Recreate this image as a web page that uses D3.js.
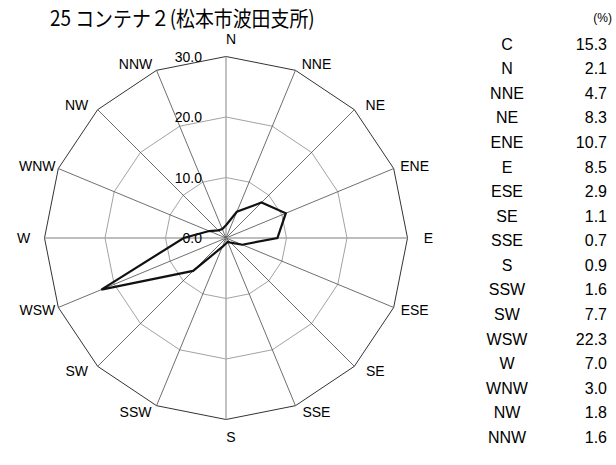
<!DOCTYPE html>
<html>
<head>
<meta charset="utf-8">
<script src="https://cdn.jsdelivr.net/npm/d3@7"></script>
<style>
  html, body { margin: 0; padding: 0; background: #fff; }
  svg { display: block; }
  text { font-family: "Liberation Sans", Arial, sans-serif; fill: #000; }
</style>
</head>
<body>
<svg id="chart" width="616" height="465"></svg>
<script>
// Wind direction frequency (%) for each of the 16 compass points
const directions = ["N", "NNE", "NE", "ENE", "E", "ESE", "SE", "SSE",
                    "S", "SSW", "SW", "WSW", "W", "WNW", "NW", "NNW"];
const frequencies = [2.1, 4.7, 8.3, 10.7, 8.5, 2.9, 1.1, 0.7,
                     0.9, 1.6, 7.7, 22.3, 7.0, 3.0, 1.8, 1.6];
const calmLabel = "C";
const calmValue = 15.3;
const ringValues = [0, 10, 20, 30];
const ringLabels = ["0.0", "10.0", "20.0", "30.0"];
const titleText = "25 コンテナ２(松本市波田支所)";
const unitText = "(%)";

const svg = d3.select("#chart");
const cx = 226, cy = 238, outerR = 181.5;

const r = d3.scaleLinear().domain([0, 30]).range([0, outerR]);
const angle = d3.scaleLinear().domain([0, directions.length]).range([0, 2 * Math.PI]);

// point on the chart for (index, value); angle 0 points north, clockwise
const pt = (i, v) => [cx + r(v) * Math.sin(angle(i)), cy - r(v) * Math.cos(angle(i))];

const g = svg.append("g");

// concentric 16-sided rings
const ringLine = d3.line().curve(d3.curveLinearClosed);
ringValues.filter(v => v > 0).forEach(v => {
  g.append("path")
    .attr("d", ringLine(directions.map((d, i) => pt(i, v))))
    .attr("fill", "none")
    .attr("stroke", v === 30 ? "#333" : "#8a8a8a")
    .attr("stroke-width", v === 30 ? 1 : 0.8);
});

// spokes: cardinal axes lighter and slightly wider
directions.forEach((d, i) => {
  const cardinal = i % 4 === 0;
  const [x2, y2] = pt(i, 30);
  g.append("line")
    .attr("x1", cx).attr("y1", cy).attr("x2", x2).attr("y2", y2)
    .attr("stroke", cardinal ? "#a8a8a8" : "#4a4a4a")
    .attr("stroke-width", cardinal ? 1.4 : 0.8);
});

// ring value labels, left of the north spoke
ringValues.forEach((v, k) => {
  g.append("text")
    .attr("x", cx - 24)
    .attr("y", cy - r(v))
    .attr("dy", "0.36em")
    .attr("text-anchor", "end")
    .style("font-size", "14px")
    .text(ringLabels[k]);
});

// frequency polygon
const radial = d3.lineRadial()
  .angle((d, i) => angle(i))
  .radius(d => r(d))
  .curve(d3.curveLinearClosed);
g.append("path")
  .attr("transform", `translate(${cx},${cy})`)
  .attr("d", radial(frequencies))
  .attr("fill", "none")
  .attr("stroke", "#111")
  .attr("stroke-width", 2.2)
  .attr("stroke-linejoin", "miter");

// direction labels just outside the outer ring
directions.forEach((d, i) => {
  const [vx, vy] = pt(i, 30);
  const s = Math.sin(angle(i)), c = Math.cos(angle(i));
  let x, y;
  if (Math.abs(s) < 1e-6) {
    x = vx + 5;
    y = vy - 17.5 * Math.sign(c);
  } else {
    x = vx + 21 * Math.sign(s);
    y = vy - 7 * c;
  }
  g.append("text")
    .attr("x", x).attr("y", y)
    .attr("dy", "0.36em")
    .attr("text-anchor", "middle")
    .style("font-size", "14px")
    .text(d);
});

// title, slightly condensed
svg.append("text")
  .attr("transform", "translate(50,26) scale(0.9,1)")
  .style("font-family", "'Noto Sans CJK JP', sans-serif")
  .style("font-size", "21px")
  .text(titleText);

// frequency table on the right
svg.append("text")
  .attr("x", 612).attr("y", 22)
  .attr("text-anchor", "end")
  .style("font-size", "12px")
  .text(unitText);

const tableLabels = [calmLabel, ...directions];
const tableValues = [calmValue, ...frequencies];
const rowY = d3.scalePoint().domain(d3.range(tableLabels.length)).range([44, 437]);
const fmt = d3.format(".1f");

tableLabels.forEach((lab, k) => {
  svg.append("text")
    .attr("x", 507).attr("y", rowY(k))
    .attr("dy", "0.36em")
    .attr("text-anchor", "middle")
    .style("font-size", "16px")
    .text(lab);
  svg.append("text")
    .attr("x", 607).attr("y", rowY(k))
    .attr("dy", "0.36em")
    .attr("text-anchor", "end")
    .style("font-size", "16px")
    .text(fmt(tableValues[k]));
});
</script>
</body>
</html>
